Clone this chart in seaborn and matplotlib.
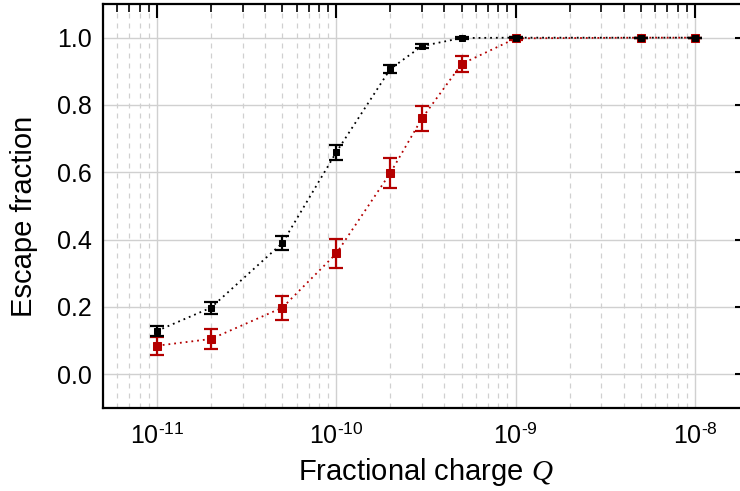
import numpy as np
import pandas as pd
import matplotlib
matplotlib.use("Agg")
import matplotlib.pyplot as plt
import matplotlib.ticker as mticker
import seaborn as sns

sns.set_style("white")
plt.rcParams['font.family'] = ['Liberation Sans', 'DejaVu Sans']
plt.rcParams['mathtext.fontset'] = 'custom'
plt.rcParams['mathtext.rm'] = 'Liberation Sans'
plt.rcParams['mathtext.it'] = 'Liberation Serif:italic'
plt.rcParams['axes.unicode_minus'] = False

# data
charge = [1e-11, 2e-11, 5e-11, 1e-10, 2e-10, 3e-10, 5e-10, 1e-9, 5e-9, 1e-8]
black_y = [0.129, 0.198, 0.390, 0.660, 0.907, 0.975, 0.999, 1.0, 1.0, 1.0]
black_err = [0.016, 0.018, 0.022, 0.022, 0.013, 0.006, 0.003, 0.002, 0.0, 0.0]
red_y = [0.085, 0.105, 0.198, 0.359, 0.598, 0.760, 0.922, 0.998, 1.0, 1.0]
red_err = [0.027, 0.029, 0.036, 0.043, 0.044, 0.037, 0.025, 0.004, 0.0, 0.0]

black_c = '#000000'
red_c = '#b40000'

df = pd.DataFrame({'Q': charge * 2,
                   'frac': red_y + black_y,
                   'series': ['red'] * len(charge) + ['black'] * len(charge)})

fig = plt.figure(figsize=(7.4, 4.91), dpi=100)
ax = fig.add_axes([103 / 740, 1 - 408 / 491, 646 / 740, 404 / 491])

# red series first, black on top
sns.lineplot(data=df[df.series == 'red'], x='Q', y='frac', ax=ax, color=red_c,
             lw=1.3, marker='s', markersize=6, markeredgecolor=red_c,
             linestyle=(0, (1, 2.2)), zorder=3)
ax.errorbar(charge, red_y, yerr=red_err, fmt='none', ecolor=red_c,
            elinewidth=1.6, capsize=5, capthick=1.6, zorder=3)
sns.lineplot(data=df[df.series == 'black'], x='Q', y='frac', ax=ax, color=black_c,
             lw=1.3, marker='s', markersize=4, markeredgecolor=black_c,
             linestyle=(0, (1, 2.2)), zorder=4)
ax.errorbar(charge, black_y, yerr=black_err, fmt='none', ecolor=black_c,
            elinewidth=1.6, capsize=5, capthick=1.6, zorder=4)

ax.set_xscale('log')
ax.set_xlim(5e-12, 2e-8)
ax.set_ylim(-0.1, 1.1)

ax.xaxis.set_major_locator(mticker.LogLocator(base=10, numticks=10))
ax.xaxis.set_minor_locator(mticker.LogLocator(base=10, subs=np.arange(2, 10), numticks=20))
ax.xaxis.set_minor_formatter(mticker.NullFormatter())
ax.xaxis.set_major_formatter(mticker.FuncFormatter(
    lambda v, p: r'10$^{\text{%d}}$' % int(round(np.log10(v)))))
ax.yaxis.set_major_locator(mticker.MultipleLocator(0.2))
ax.yaxis.set_minor_locator(mticker.MultipleLocator(0.1))
ax.yaxis.set_major_formatter(mticker.FormatStrFormatter('%.1f'))

ax.grid(which='major', axis='both', color='#d0d0d0', lw=1.0, linestyle='-', zorder=0)
ax.grid(which='minor', axis='x', color='#d0d0d0', lw=0.9, linestyle=(0, (4, 4)), zorder=0)
ax.grid(which='minor', axis='y', visible=False)
ax.set_axisbelow(True)

for s in ax.spines.values():
    s.set_visible(True)
    s.set_color('black')
    s.set_linewidth(1.6)

ax.tick_params(axis='x', which='major', direction='out', length=6, width=1.5,
               top=True, labelsize=18, pad=5, colors='black', labelcolor='black')
ax.tick_params(axis='x', which='minor', direction='out', length=4, width=1.2,
               top=True, colors='black')
ax.tick_params(axis='y', which='major', direction='in', length=10, width=1.5,
               right=True, labelsize=18, pad=8, colors='black', labelcolor='black')
ax.tick_params(axis='y', which='minor', direction='in', length=5, width=1.2,
               right=True, colors='black')
# top ticks point into the axes
for t in ax.xaxis.get_major_ticks():
    t.tick2line.set_marker(3)
    t.tick2line.set_markersize(10)
for t in ax.xaxis.get_minor_ticks():
    t.tick2line.set_marker(3)
    t.tick2line.set_markersize(6)

ax.set_xlabel('Fractional charge $Q$', fontsize=21, color='black')
ax.set_ylabel('Escape fraction', fontsize=21, color='black')
ax.xaxis.set_label_coords(0.5, -0.12)
ax.yaxis.set_label_coords(-0.10, 0.475)

fig.savefig('out.png', dpi=100)
